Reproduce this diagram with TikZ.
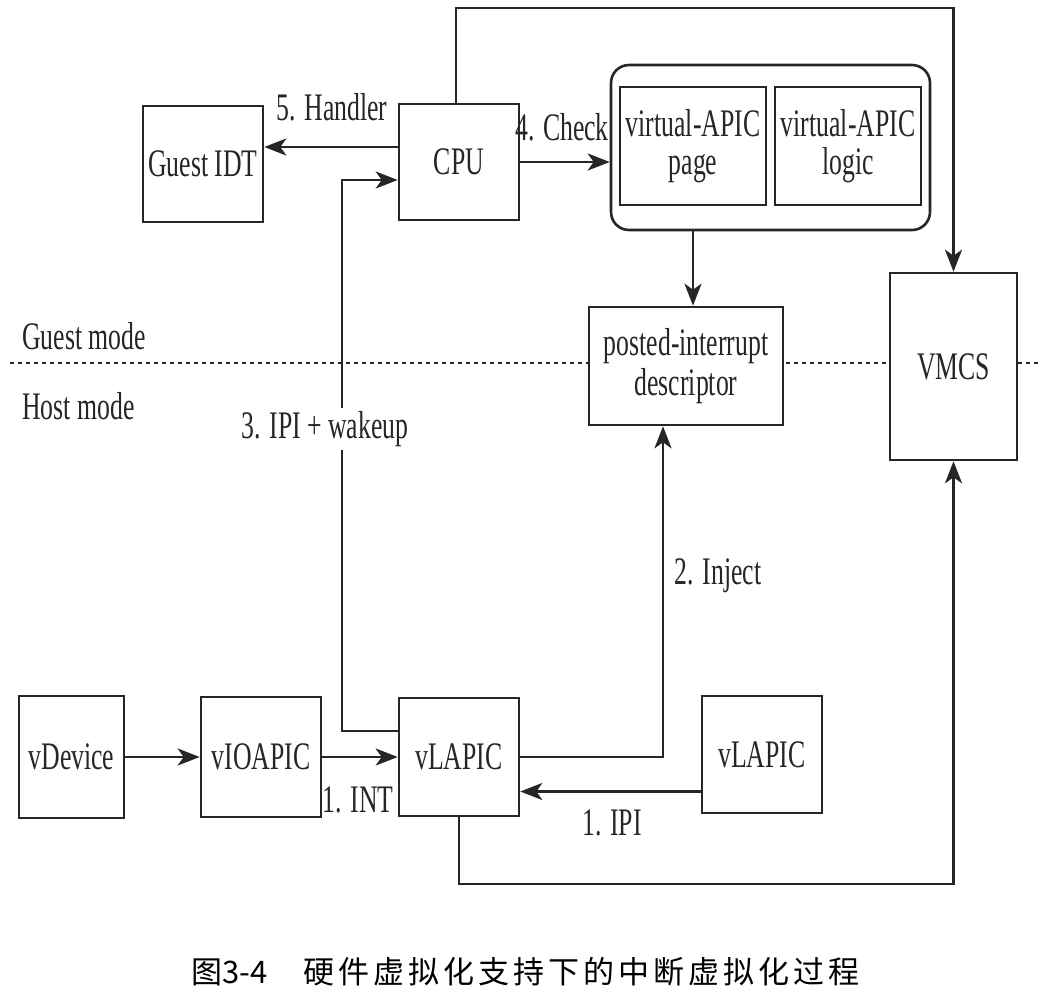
\documentclass[tikz,border=0pt]{standalone}
\usepackage{fontspec}
\setmainfont{Liberation Serif}[FakeStretch=0.66]
\newfontfamily\cjk{Noto Sans CJK SC}
\newfontfamily\cjksp{Noto Sans CJK SC}[LetterSpace=13]
\usetikzlibrary{arrows.meta,positioning}
\definecolor{ink}{HTML}{262626}
\begin{document}
\begin{tikzpicture}[x=1pt,y=-1pt,
  line width=2.6pt, draw=ink, text=ink,
  box/.style={draw=ink, fill=white, line width=2.6pt, inner sep=0pt, align=center,
              font=\fontsize{39}{38}\selectfont},
  arr/.style={draw=ink, line width=2.6pt, -{Stealth[length=22pt,width=17pt,inset=6pt]}},
  lbl/.style={text=ink, font=\fontsize{39}{38}\selectfont, inner sep=1pt},
  modeline/.style={draw=ink, line width=2.2pt, dash pattern=on 3.5pt off 4.5pt}
]
\useasboundingbox[fill=white] (0,0) rectangle (1044,999);

% mode boundary
\coordinate (dl) at (10,363);
\coordinate (dr) at (1040,363);
\draw[modeline] (dl) -- (dr);
\node[lbl, anchor=west] (guest) at (20,336) {Guest mode};
\node[lbl, anchor=west] (host) at (20,406) {Host mode};

% boxes
\node[box, minimum width=120pt, minimum height=116pt] (gidt) at (203,164) {Guest IDT};
\node[box, minimum width=120pt, minimum height=116pt] (cpu) at (459,162) {CPU};
\node[box, rounded corners=18pt, minimum width=319pt, minimum height=165pt] (outer) at (770.5,147.5) {};
\node[box, minimum width=146pt, minimum height=118pt] (vap) at (693,146) {virtual-APIC\\page};
\node[box, minimum width=146pt, minimum height=118pt] (val) at (848,146) {virtual-APIC\\logic};
\node[box, minimum width=194pt, minimum height=118pt, font=\fontsize{39}{40}\selectfont] (posted) at (686,366) {posted-interrupt\\descriptor};
\node[box, minimum width=127pt, minimum height=187pt] (vmcs) at (953.5,366.5) {VMCS};
\node[box, minimum width=105pt, minimum height=122pt] (vdev) at (71.5,757) {vDevice};
\node[box, minimum width=120pt, minimum height=120pt] (vioapic) at (261,757) {vIOAPIC};
\node[box, minimum width=120pt, minimum height=118pt] (vlapic) at (459,757) {vLAPIC};
\node[box, minimum width=120pt, minimum height=117pt] (vlapicb) at (762,754.5) {vLAPIC};

% CPU -> VMCS (top loop)
\coordinate (topc) at (456,8);
\draw[arr] (cpu.north -| topc) -- (topc) -| (vmcs.north);

% 5. Handler
\path ([yshift=15pt]cpu.west) coordinate (hs);
\draw[arr] (hs) -- (hs -| gidt.east);
\node[lbl] (lhandler) at (332,107) {5. Handler};

% 4. Check
\draw[arr] (cpu.east) -- (cpu.east -| outer.west);
\node[lbl] (lcheck) at (562,127) {4. Check};

% virtual-APIC -> posted-interrupt descriptor
\draw[arr] (outer.south -| vap.south) -- (posted.north -| vap.south);

% 3. IPI + wakeup
\coordinate (wx) at (342,0);
\path ([yshift=26pt]vlapic.west) coordinate (ws) ([yshift=-18pt]cpu.west) coordinate (we);
\draw[arr] (ws) -- (ws -| wx) -- (we -| wx) -- (we);
\node[lbl, fill=white, inner sep=3pt] (lwake) at (325,429) {3. IPI + wakeup};

% vDevice -> vIOAPIC -> vLAPIC
\draw[arr] (vdev.east) -- (vioapic.west);
\draw[arr] (vioapic.east) -- (vlapic.west);
\node[lbl] (lint) at (358,800) {1. INT};

% 1. IPI
\path ([yshift=-37pt]vlapicb.west) coordinate (ipi);
\draw[arr] (ipi) -- (ipi -| vlapic.east);
\node[lbl] (lipi) at (612,823) {1. IPI};

% 2. Inject
\draw[arr] (vlapic.east) -| ([xshift=-23pt]posted.south);
\node[lbl] (linject) at (718,576) {2. Inject};

% vLAPIC -> VMCS (bottom loop)
\coordinate (botc) at (459,884);
\draw[arr] (vlapic.south) -- (botc) -| (vmcs.south);

% caption
\node[text=black, inner sep=0pt, anchor=west] (cap) at (190,972) {\cjk\fontsize{31}{31}\selectfont 图3-4\hspace{36pt}\cjksp 硬件虚拟化支持下的中断虚拟化过程};
\end{tikzpicture}
\end{document}
